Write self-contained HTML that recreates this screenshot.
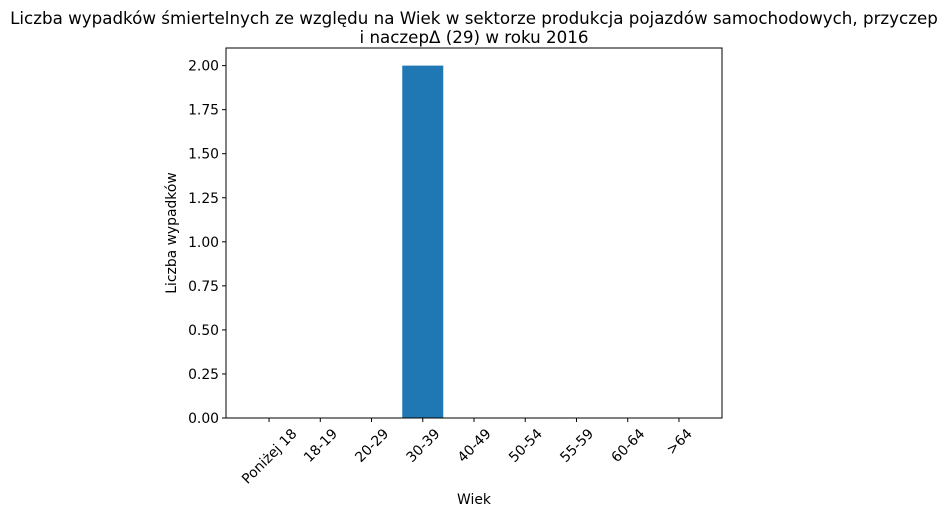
<!DOCTYPE html>
<html><head><meta charset="utf-8"><style>
body{margin:0;background:#fff}
svg{font-family:"DejaVu Sans","Liberation Sans",sans-serif}
</style></head><body>
<svg id="chart" width="948" height="518" xmlns="http://www.w3.org/2000/svg">
<text x="474" y="24" text-anchor="middle" font-size="16.7">Liczba wypadków śmiertelnych ze względu na Wiek w sektorze produkcja pojazdów samochodowych, przyczep</text>
<text x="474" y="43" text-anchor="middle" font-size="16.7">i naczepΔ (29) w roku 2016</text>
<g id="plot"></g>
<rect x="226" y="48" width="496" height="370" fill="none" stroke="#000" stroke-width="1"/>
<text x="474" y="504" text-anchor="middle" font-size="13.9">Wiek</text>
<text transform="translate(176,233) rotate(-90)" text-anchor="middle" font-size="13.9">Liczba wypadków</text>
</svg>
<script>
const categories=["Poniżej 18","18-19","20-29","30-39","40-49","50-54","55-59","60-64",">64"];
const values=[0,0,0,2,0,0,0,0,0];
const yTicks=[0,0.25,0.5,0.75,1.0,1.25,1.5,1.75,2.0];
const tickLabels=["0.00","0.25","0.50","0.75","1.00","1.25","1.50","1.75","2.00"];
const NS="http://www.w3.org/2000/svg";
const L=226,R=722,T=48,B=418;
const yMax=Math.max(...values)*1.05||1;
const x=i=>L+(i+0.84)/9.68*(R-L);
const bw=0.8/9.68*(R-L);
const y=v=>B-v/yMax*(B-T);
const g=document.getElementById('plot');
function mk(t,a){const e=document.createElementNS(NS,t);for(const k in a)e.setAttribute(k,a[k]);g.appendChild(e);return e;}
values.forEach((v,i)=>{
  const r=mk('rect',{x:x(i)-bw/2,y:y(v),width:bw,height:B-y(v),fill:'#1f77b4'});
  
  
});
yTicks.forEach((t,i)=>{
  const l=mk('line',{x1:L-4,x2:L,y1:y(t),y2:y(t),stroke:'#000'});
  
  
  const tx=mk('text',{x:L-7,y:y(t)+5,'text-anchor':'end','font-size':'13.9'});
  tx.textContent=tickLabels[i];
  
  
});
categories.forEach((c,i)=>{
  const cx=x(i);
  const l=mk('line',{x1:cx,x2:cx,y1:B,y2:B+4,stroke:'#000'});
  
  
  const tx=mk('text',{'text-anchor':'middle','font-size':'13.9'});
  tx.textContent=c;
  
  
  const w=tx.getComputedTextLength(),h=14;
  const bh=(w+h)*0.7071;
  const cy=B+8+bh/2;
  tx.setAttribute('transform','translate('+cx+','+cy+') rotate(-45)');
  tx.setAttribute('y',5);
});
</script>
</body></html>
